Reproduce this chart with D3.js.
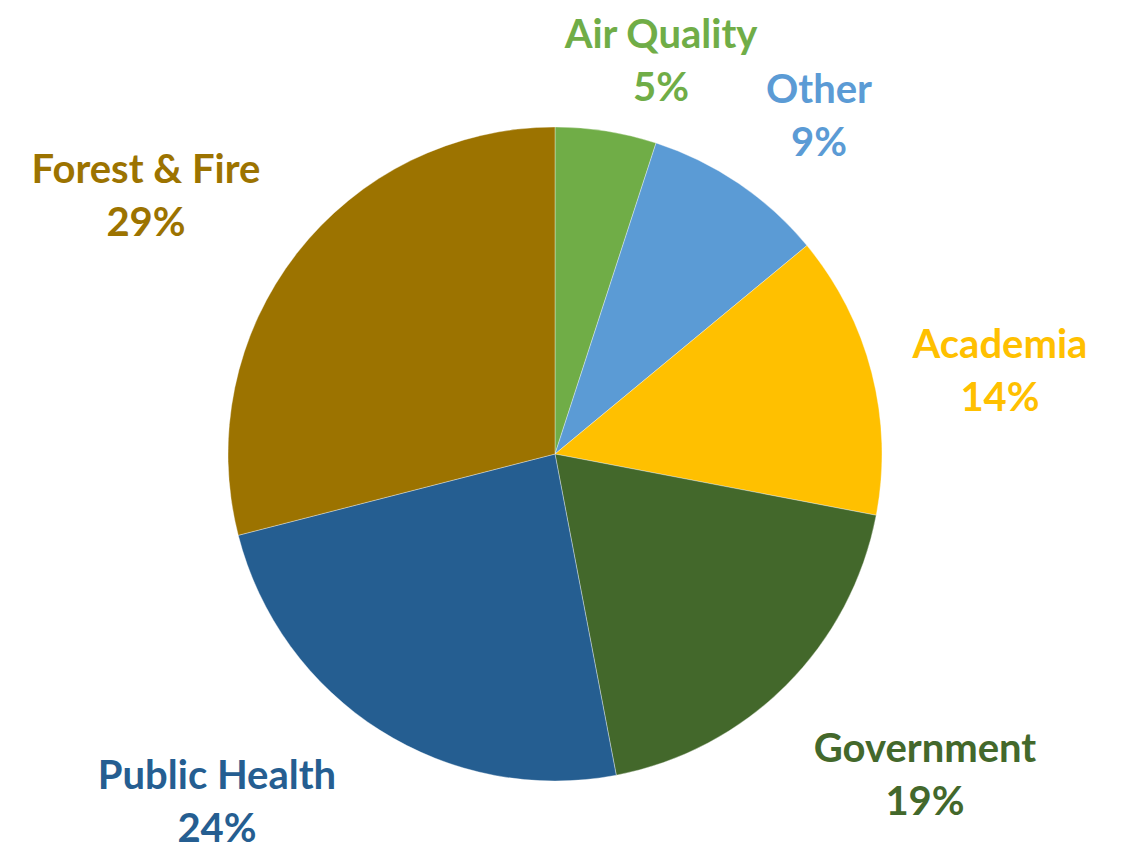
<!DOCTYPE html>
<html>
<head>
<meta charset="utf-8">
<script src="https://cdn.jsdelivr.net/npm/d3@7"></script>
<style>
  html, body { margin: 0; padding: 0; background: #ffffff; }
  svg { display: block; }
  text { font-family: Lato, "Open Sans", sans-serif; font-weight: bold; }
</style>
</head>
<body>
<svg id="chart" width="1122" height="850"></svg>
<script>
// Data
const categories = ["Air Quality", "Other", "Academia", "Government", "Public Health", "Forest & Fire"];
const values = [5, 9, 14, 19, 24, 29];
const colors = ["#70AD47", "#5B9BD5", "#FFC000", "#43682B", "#255E91", "#9C7300"];
const labelColors = ["#70AD47", "#5B9BD5", "#FFC000", "#43682B", "#255E91", "#9C7300"];

// Layout (label anchor positions: centre x, first baseline y)
const cx = 555, cy = 454, radius = 327;
const labelPos = [
  [661, 48], [819, 103], [1000, 358], [925, 762], [217, 789], [146, 183]
];
const lineGap = 53;
const fontSize = 40;

const svg = d3.select("#chart");
const data = categories.map((c, i) => ({ name: c, value: values[i], i }));

const pie = d3.pie().sort(null).value(d => d.value);
const arc = d3.arc().innerRadius(0).outerRadius(radius);

const g = svg.append("g").attr("transform", `translate(${cx},${cy})`);
g.selectAll("path")
  .data(pie(data))
  .join("path")
  .attr("d", arc)
  .attr("fill", d => colors[d.data.i])
  .attr("stroke", "#ffffff")
  .attr("stroke-opacity", 0.35)
  .attr("stroke-width", 1);

const labels = svg.selectAll("g.lbl")
  .data(data)
  .join("g")
  .attr("class", "lbl")
  .attr("transform", d => `translate(${labelPos[d.i][0]},${labelPos[d.i][1]})`);

labels.append("text")
  .attr("text-anchor", "middle")
  .attr("font-size", fontSize)
  .attr("fill", d => labelColors[d.i])
  .text(d => d.name);

labels.append("text")
  .attr("text-anchor", "middle")
  .attr("y", lineGap)
  .attr("font-size", fontSize)
  .attr("fill", d => labelColors[d.i])
  .text(d => d.value + "%");
</script>
</body>
</html>
